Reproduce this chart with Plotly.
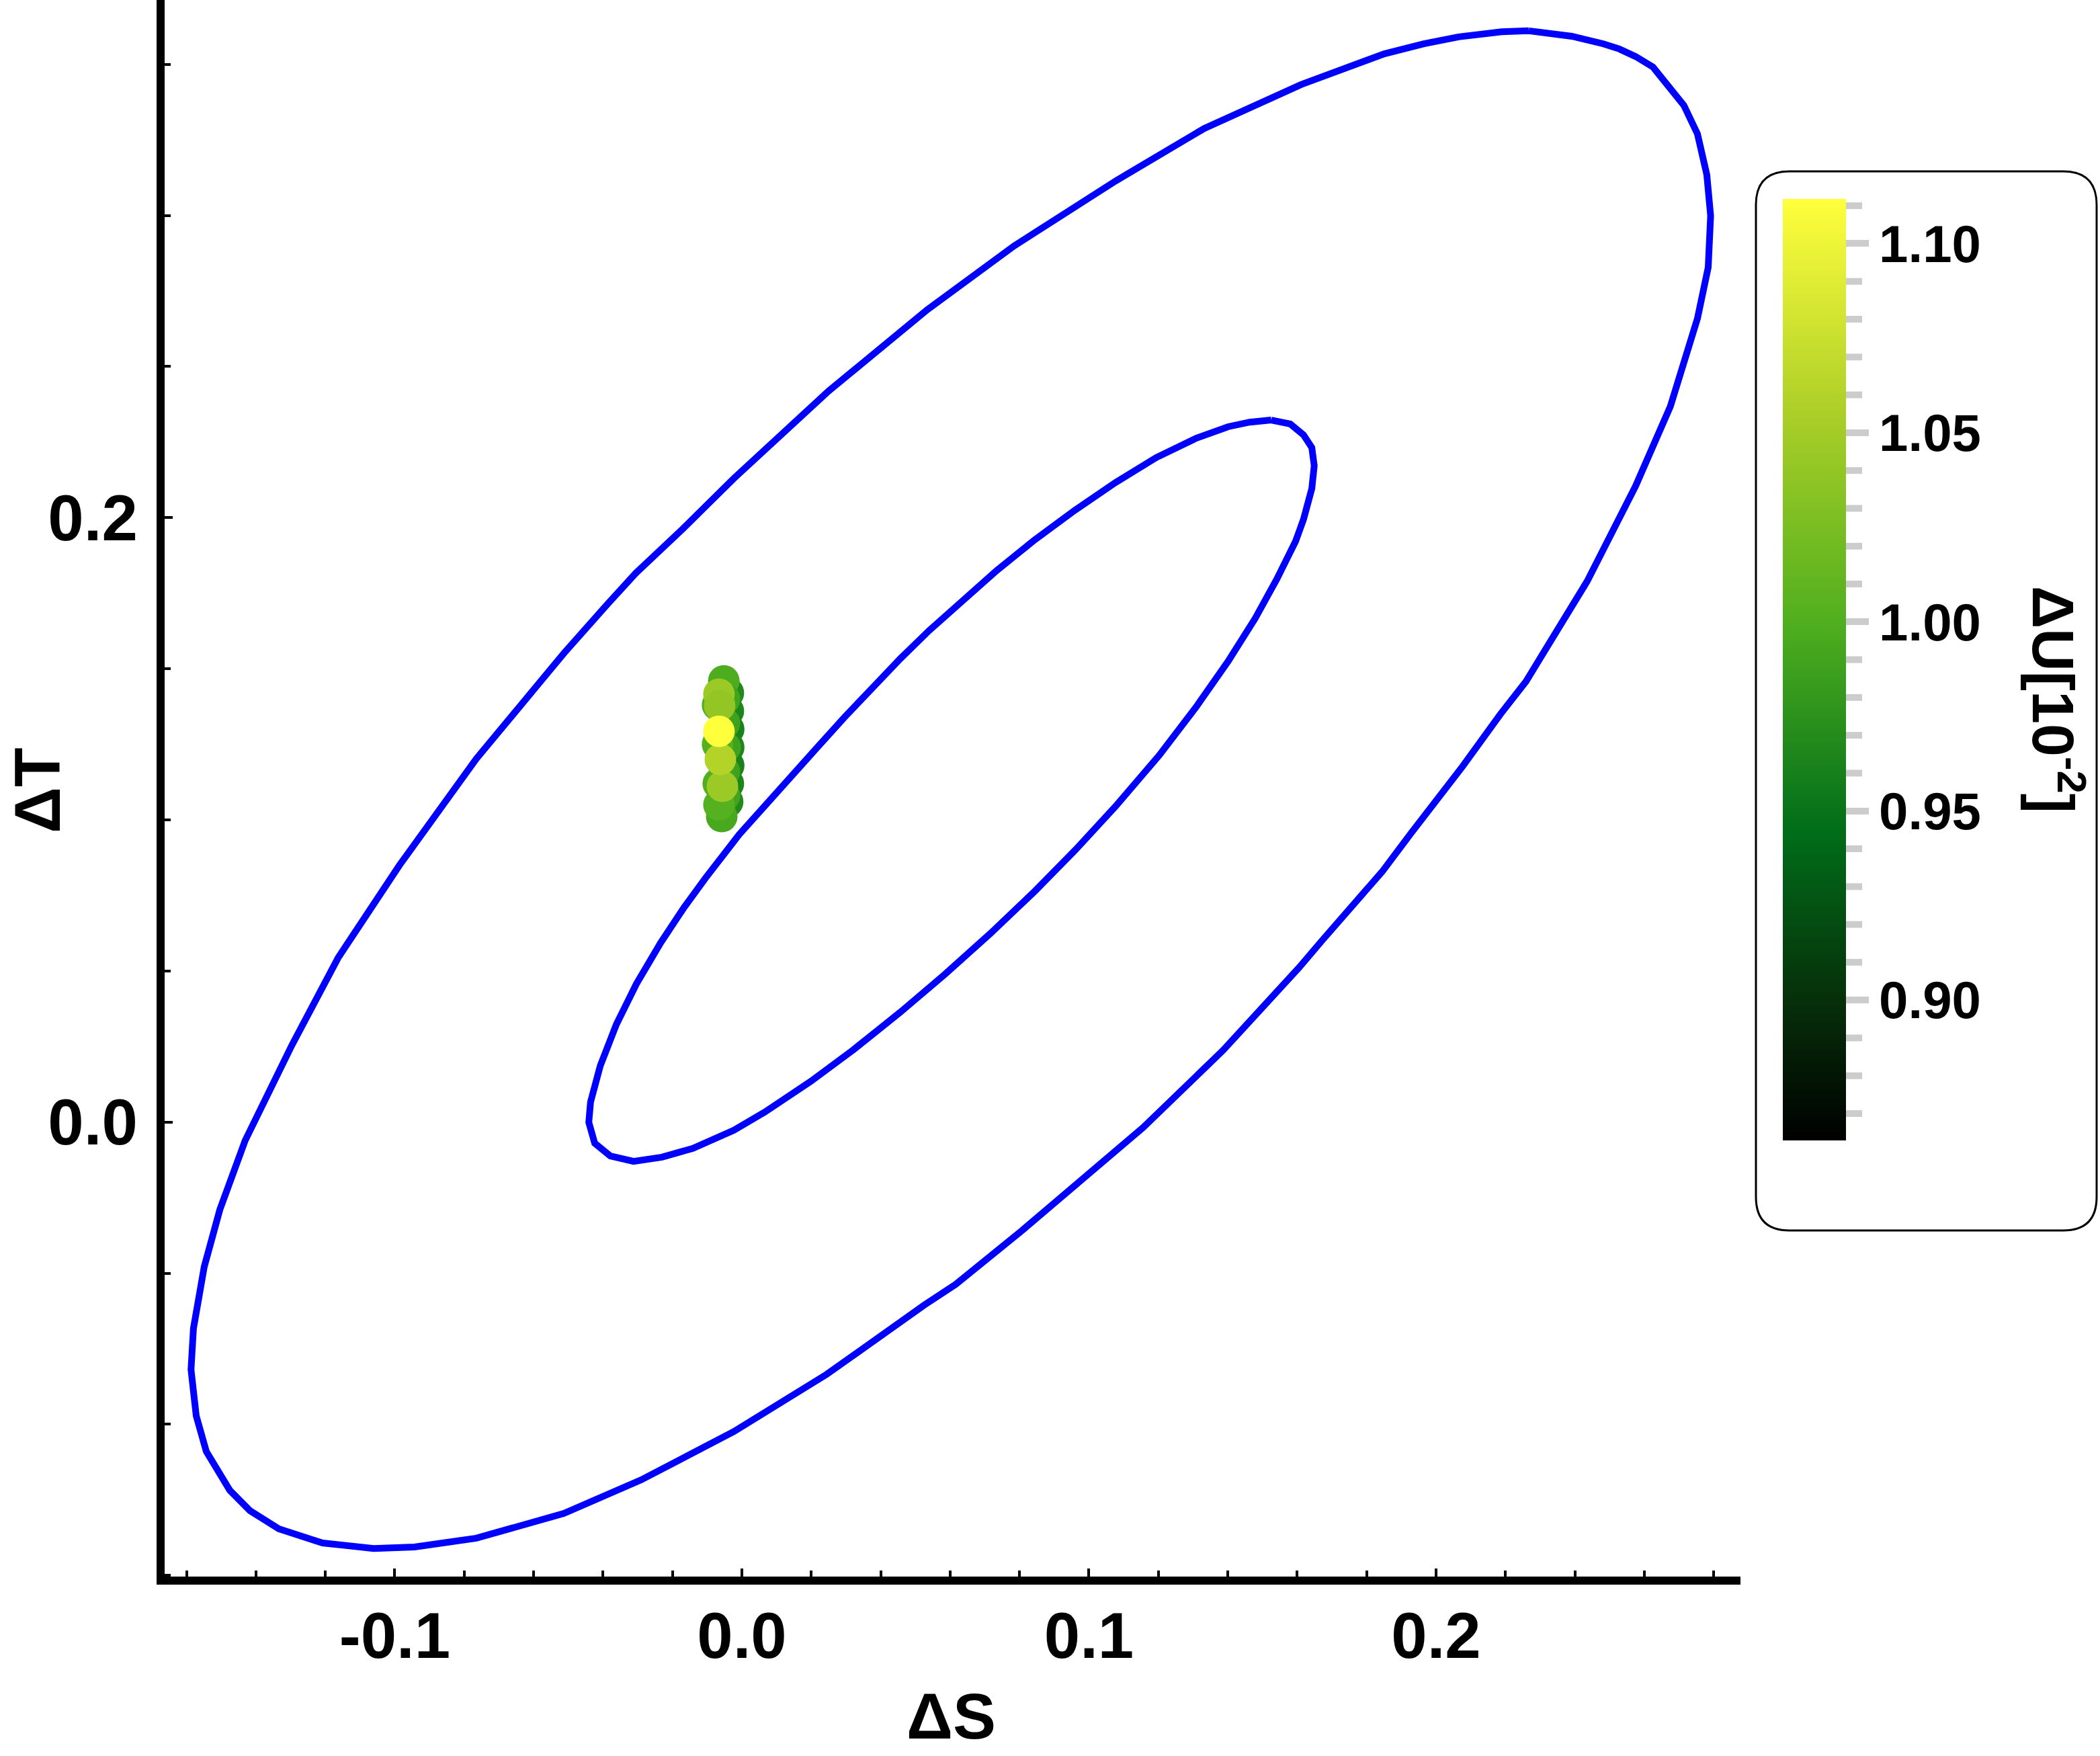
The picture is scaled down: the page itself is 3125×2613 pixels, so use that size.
import plotly.graph_objects as go

# ---------------- data ----------------
outer_dS = [0.2267, 0.2189, 0.2065, 0.1965, 0.1851, 0.1611, 0.1332, 0.1078, 0.0784, 0.0534,
            0.0250, -0.0023, -0.0172, -0.0306, -0.0387, -0.0513, -0.0765, -0.0987, -0.1163, -0.1297,
            -0.1431, -0.1504, -0.1549, -0.1580, -0.1587, -0.1572, -0.1543, -0.1475, -0.1417, -0.1334,
            -0.1208, -0.1061, -0.0943, -0.0765, -0.0513, -0.0290, -0.0023, 0.0244, 0.0525, 0.0616,
            0.0807, 0.1078, 0.1156, 0.1386, 0.1541, 0.1605, 0.1671, 0.1767, 0.1845, 0.1928,
            0.1992, 0.2077, 0.2185, 0.2259, 0.2435,
            0.2575, 0.2675, 0.2753, 0.2784, 0.2791, 0.2780, 0.2753, 0.2714, 0.2660, 0.2625,
            0.2575, 0.2528, 0.2482, 0.2391, 0.2267]
outer_dT = [0.3611, 0.3608, 0.3591, 0.3568, 0.3535, 0.3433, 0.3288, 0.3115, 0.2899, 0.2688,
            0.2419, 0.2130, 0.1961, 0.1816, 0.1714, 0.1551, 0.1202, 0.0849, 0.0544, 0.0253,
            -0.0061, -0.0290, -0.0479, -0.0683, -0.0819, -0.0972, -0.1090, -0.1219, -0.1286, -0.1346,
            -0.1393, -0.1411, -0.1406, -0.1377, -0.1295, -0.1184, -0.1024, -0.0835, -0.0606, -0.0537,
            -0.0359, -0.0094, -0.0018, 0.0237, 0.0429, 0.0511, 0.0600, 0.0726, 0.0829, 0.0956,
            0.1051, 0.1178, 0.1349, 0.1458, 0.1789,
            0.2105, 0.2368, 0.2659, 0.2828, 0.2999, 0.3135, 0.3270, 0.3364, 0.3442, 0.3491,
            0.3526, 0.3551, 0.3568, 0.3593, 0.3611]

inner_dS = [0.1525, 0.1463, 0.1401, 0.1309, 0.1194, 0.1076, 0.0960, 0.0844, 0.0734, 0.0606,
            0.0540, 0.0457, 0.0379, 0.0296, 0.0219, 0.0153, 0.0075, -0.0008, -0.0105, -0.0166,
            -0.0234, -0.0304, -0.0362, -0.0408, -0.0436, -0.0441,
            -0.0424, -0.0379, -0.0312, -0.0230, -0.0141, -0.0023, 0.0066, 0.0199,
            0.0321, 0.0457, 0.0585, 0.0716, 0.0844, 0.0962, 0.1076, 0.1202,
            0.1309, 0.1401, 0.1479, 0.1541, 0.1595, 0.1618, 0.1642, 0.1649, 0.1642, 0.1618,
            0.1580, 0.1525]
inner_dT = [0.2323, 0.2316, 0.2301, 0.2263, 0.2199, 0.2116, 0.2025, 0.1927, 0.1825, 0.1698,
            0.1627, 0.1534, 0.1443, 0.1340, 0.1242, 0.1158, 0.1060, 0.0951, 0.0807, 0.0711,
            0.0593, 0.0457, 0.0322, 0.0186, 0.0066, -0.0001,
            -0.0070, -0.0112, -0.0130, -0.0116, -0.0087, -0.0027, 0.0033, 0.0135,
            0.0239, 0.0364, 0.0489, 0.0624, 0.0764, 0.0902, 0.1044, 0.1213,
            0.1374, 0.1525, 0.1667, 0.1796, 0.1921, 0.1994, 0.2096, 0.2172, 0.2232, 0.2274,
            0.2310, 0.2323]

pts_dS = [-0.0060,
          -0.0039, -0.0039, -0.0038, -0.0038, -0.0038, -0.0039, -0.0041,
          -0.0052, -0.0058, -0.0050, -0.0050, -0.0048, -0.0050, -0.0050,
          -0.0070, -0.0070, -0.0068, -0.0066,
          -0.0066, -0.0064, -0.0056, -0.0062, -0.0066]
pts_dT = [0.1250,
          0.1420, 0.1360, 0.1300, 0.1240, 0.1180, 0.1120, 0.1060,
          0.1460, 0.1011, 0.1400, 0.1320, 0.1240, 0.1160, 0.1080,
          0.1380, 0.1250, 0.1120, 0.1050,
          0.1416, 0.1378, 0.1111, 0.1200, 0.1293]
pts_dU = [0.863,
          0.968, 0.965, 0.962, 0.965, 0.962, 0.965, 0.968,
          0.998, 0.995, 0.990, 0.988, 0.988, 0.988, 0.990,
          1.000, 1.002, 1.000, 1.003,
          1.045, 1.040, 1.045, 1.060, 1.112]

x_tickvals = [-0.1, 0.0, 0.1, 0.2]
x_ticktext = ["-0.1", "0.0", "0.1", "0.2"]
y_tickvals = [0.0, 0.2]
y_ticktext = ["0.0", "0.2"]
cb_minor = [0.87, 0.88, 0.89, 0.91, 0.92, 0.93, 0.94, 0.96, 0.97, 0.98, 0.99,
            1.01, 1.02, 1.03, 1.04, 1.06, 1.07, 1.08, 1.09, 1.11]
cb_major = [0.90, 0.95, 1.00, 1.05, 1.10]
cb_major_text = ["0.90", "0.95", "1.00", "1.05", "1.10"]
U_MIN, U_MAX = 0.8629, 1.1118

# ---------------- geometry / style ----------------
W, H = 3125, 2613
PL, PR, PT, PB = 245, 2590, 0, 2346
PW, PH = PR - PL, PB - PT
FONT = "Liberation Sans"


def pxx(px):
    return (px - PL) / PW


def pxy(py):
    return 1 - (py - PT) / PH


avocado = [[0.0, "rgb(0,0,0)"], [0.15, "rgb(6,48,10)"], [0.33, "rgb(0,110,25)"],
           [0.55, "rgb(80,175,30)"], [0.78, "rgb(175,208,40)"], [1.0, "rgb(255,255,60)"]]

BAR_TOP, BAR_BOT, BAR_L, BAR_R = 296, 1697, 2653, 2747
TICK_GRAY = "#cccccc"

fig = go.Figure()
fig.add_trace(go.Scatter(x=outer_dS, y=outer_dT, mode="lines",
                         line=dict(color="#0000ff", width=10), showlegend=False, hoverinfo="skip"))
fig.add_trace(go.Scatter(x=inner_dS, y=inner_dT, mode="lines",
                         line=dict(color="#0000ff", width=10), showlegend=False, hoverinfo="skip"))
fig.add_trace(go.Scatter(
    x=pts_dS, y=pts_dT, mode="markers", showlegend=False,
    marker=dict(size=47, color=pts_dU, colorscale=avocado, cmin=U_MIN, cmax=U_MAX,
                line=dict(width=0), opacity=1,
                colorbar=dict(
                    thicknessmode="pixels", thickness=BAR_R - BAR_L,
                    lenmode="pixels", len=BAR_BOT - BAR_TOP,
                    x=pxx(BAR_L), xanchor="left", xpad=0,
                    y=pxy((BAR_TOP + BAR_BOT) / 2), yanchor="middle", ypad=0,
                    outlinewidth=0, borderwidth=0,
                    tickmode="array", tickvals=cb_major, ticktext=cb_major_text,
                    ticks="outside", ticklen=34, tickwidth=10, tickcolor=TICK_GRAY,
                    tickfont=dict(family=FONT, size=78, color="black", weight="bold"),
                ))))


def cb_py(v):
    return BAR_TOP + (U_MAX - v) / (U_MAX - U_MIN) * (BAR_BOT - BAR_TOP)


shapes = []
for v in cb_minor:
    shapes.append(dict(type="line", xref="paper", yref="paper",
                       x0=pxx(BAR_R - 7), x1=pxx(BAR_R + 24), y0=pxy(cb_py(v)), y1=pxy(cb_py(v)),
                       line=dict(color=TICK_GRAY, width=10)))
for v in cb_major:
    shapes.append(dict(type="line", xref="paper", yref="paper",
                       x0=pxx(BAR_R - 7), x1=pxx(BAR_R + 2), y0=pxy(cb_py(v)), y1=pxy(cb_py(v)),
                       line=dict(color=TICK_GRAY, width=10)))

# rounded legend box
bx0, bx1, by0, by1, r = 2613, 3120, 255, 1831, 50


def P(x, y):
    return f"{pxx(x):.5f},{pxy(y):.5f}"


path = (f"M {P(bx0 + r, by0)} L {P(bx1 - r, by0)} Q {P(bx1, by0)} {P(bx1, by0 + r)} "
        f"L {P(bx1, by1 - r)} Q {P(bx1, by1)} {P(bx1 - r, by1)} "
        f"L {P(bx0 + r, by1)} Q {P(bx0, by1)} {P(bx0, by1 - r)} "
        f"L {P(bx0, by0 + r)} Q {P(bx0, by0)} {P(bx0 + r, by0)} Z")
shapes.append(dict(type="path", xref="paper", yref="paper", path=path,
                   line=dict(color="black", width=3), layer="below"))

annotations = [
    dict(text="ΔS", xref="paper", yref="paper", x=pxx(1415), y=pxy(2553),
         xanchor="center", yanchor="middle", showarrow=False,
         font=dict(family=FONT, size=96, color="black", weight="bold")),
    dict(text="ΔT", xref="paper", yref="paper", x=pxx(55), y=pxy(1176),
         xanchor="center", yanchor="middle", showarrow=False, textangle=-90,
         font=dict(family=FONT, size=96, color="black", weight="bold")),
    dict(text="ΔU[10<sup>-2</sup>]", xref="paper", yref="paper", x=pxx(3062), y=pxy(1041),
         xanchor="center", yanchor="middle", showarrow=False, textangle=90,
         font=dict(family=FONT, size=88, color="black", weight="bold")),
]

axis_common = dict(showline=True, linecolor="black", linewidth=12, showgrid=False,
                   zeroline=False, ticks="inside", tickcolor="black", tickwidth=4,
                   ticklen=12, tickmode="array",
                   tickfont=dict(family=FONT, size=96, color="black", weight="bold"))

fig.update_layout(
    width=W, height=H, paper_bgcolor="white", plot_bgcolor="white",
    margin=dict(l=PL, r=W - PR, t=PT, b=H - PB, pad=0),
    xaxis=dict(range=[-0.1663, 0.2877], tickvals=x_tickvals, ticktext=x_ticktext,
               minor=dict(ticks="inside", tickmode="linear", tick0=0, dtick=0.02,
                          ticklen=9, tickwidth=4, tickcolor="black", showgrid=False),
               ticklabelstandoff=-6, **axis_common),
    yaxis=dict(range=[-0.1504, 0.3713], tickvals=y_tickvals, ticktext=y_ticktext,
               minor=dict(ticks="inside", tickmode="linear", tick0=0, dtick=0.05,
                          ticklen=9, tickwidth=4, tickcolor="black", showgrid=False),
               ticklabelstandoff=9, **axis_common),
    shapes=shapes, annotations=annotations, showlegend=False,
)

fig.write_html("out.html", config={"displayModeBar": False},
               post_script="document.body.style.margin='0px'; document.body.style.overflow='hidden';")
